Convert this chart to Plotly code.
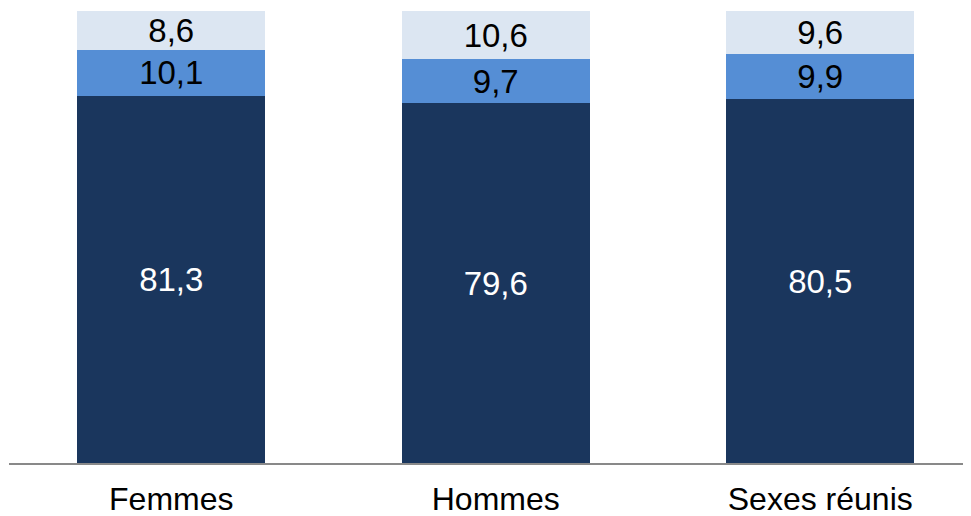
import plotly.graph_objects as go

categories = ["Femmes", "Hommes", "Sexes réunis"]
series_names = ["Bas", "Milieu", "Haut"]
values_bottom = [81.3, 79.6, 80.5]
values_middle = [10.1, 9.7, 9.9]
values_top = [8.6, 10.6, 9.6]

colors = ["#1A365D", "#558ED5", "#DCE6F2"]
text_colors = ["white", "black", "black"]

fig = go.Figure()
for name, vals, col, tcol in zip(series_names, [values_bottom, values_middle, values_top], colors, text_colors):
    fig.add_trace(go.Bar(
        x=categories, y=vals, name=name,
        marker=dict(color=col, line=dict(width=0)),
        texttemplate="%{y:.1f}", textposition="inside",
        insidetextanchor="middle", textangle=0,
        constraintext="none",
        textfont=dict(family="Liberation Sans, Arial, sans-serif", size=33, color=tcol),
    ))

fig.update_layout(
    barmode="stack",
    width=963, height=508,
    margin=dict(l=1, r=0, t=3, b=53, autoexpand=False),
    paper_bgcolor="white", plot_bgcolor="white",
    showlegend=False,
    bargap=0.421,
    separators=", ",
    uniformtext=dict(mode=False),
    xaxis=dict(
        range=[-0.5, 2.4646],
        automargin=False,
        showline=True, linecolor="#898989", linewidth=2,
        ticks="outside", ticklen=7, tickcolor="rgba(0,0,0,0)",
        tickfont=dict(family="Liberation Sans, Arial, sans-serif", size=32, color="black"),
        showgrid=False, zeroline=False,
    ),
    yaxis=dict(range=[0, 100], visible=False, showgrid=False, zeroline=False),
)

fig.write_html("out.html")
